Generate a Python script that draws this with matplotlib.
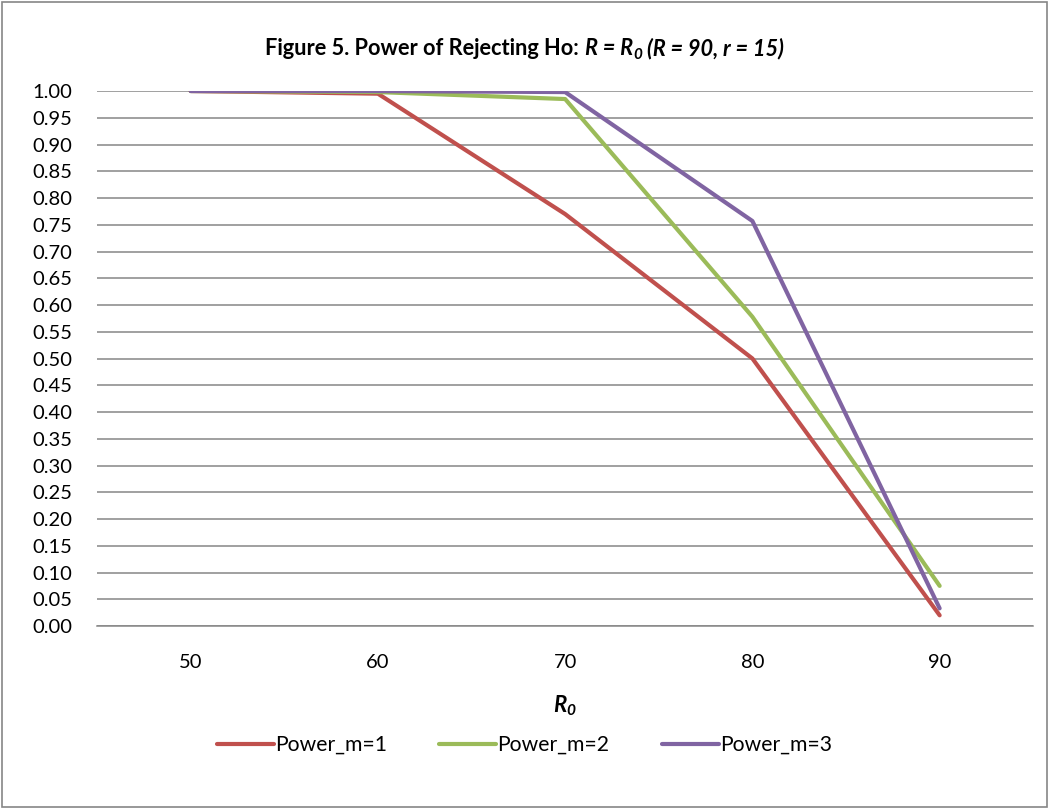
import matplotlib.pyplot as plt
from matplotlib.patches import Rectangle

plt.rcParams['font.family'] = ['Lato', 'DejaVu Sans']
plt.rcParams['mathtext.fontset'] = 'custom'
plt.rcParams['mathtext.it'] = 'Lato:italic:bold'
plt.rcParams['mathtext.rm'] = 'Lato:italic:bold'
plt.rcParams['mathtext.bf'] = 'Lato:bold'

r0_values = ['50', '60', '70', '80', '90']
power_m1 = [1.000, 0.995, 0.770, 0.500, 0.020]
power_m2 = [1.000, 0.998, 0.985, 0.578, 0.075]
power_m3 = [1.000, 1.000, 0.998, 0.757, 0.033]
series_names = ['Power_m=1', 'Power_m=2', 'Power_m=3']
colors = ['#C0504D', '#9BBB59', '#8064A2']

fig = plt.figure(figsize=(10.49, 8.09), dpi=100)
ax = fig.add_axes([0.0925, 0.2262, 0.8925, 0.6613])

x = list(range(len(r0_values)))
for vals, name, c in zip([power_m1, power_m2, power_m3], series_names, colors):
    ax.plot(x, vals, color=c, lw=3.0, label=name, solid_capstyle='round', solid_joinstyle='round')

ax.set_xlim(-0.5, 4.5)
ax.set_ylim(0, 1.0)
ax.set_yticks([i * 0.05 for i in range(21)])
ax.set_yticklabels(['%.2f' % (i * 0.05) for i in range(21)], fontsize=14.5)
ax.set_xticks(x)
ax.set_xticklabels(r0_values, fontsize=14.5)
ax.tick_params(length=0)
ax.tick_params(axis='y', pad=18)
ax.tick_params(axis='x', pad=20)
ax.grid(axis='y', color='#868686', lw=1.1)
ax.set_axisbelow(True)
for s in ['top', 'right', 'left']:
    ax.spines[s].set_visible(False)
ax.spines['bottom'].set_color('#868686')
ax.spines['bottom'].set_linewidth(1.1)

ax.set_xlabel(r'$R_{0}$', fontsize=16, labelpad=16)

# title built from pieces: plain bold, bold italic, subscript
W = fig.get_figwidth() * fig.dpi
H = fig.get_figheight() * fig.dpi
title_y = 809 - 50
pieces = [
    ('Figure 5. Power of Rejecting Ho:', 'normal', 15.7, 0, 6),
    ('R = R', 'italic', 15.7, 0, 0),
    ('0', 'italic', 11, -4, 5),
    ('(R = 90, r = 15)', 'italic', 15.7, 0, 0),
]
renderer = fig.canvas.get_renderer()
texts = []
total = 0
for s, style, size, dy, gap in pieces:
    t = fig.text(0, 0, s, fontsize=size, fontweight='bold', style=style,
                 ha='left', va='baseline')
    w = t.get_window_extent(renderer).width
    texts.append((t, w, dy, gap))
    total += w + gap
xpos = (W - total) / 2
for t, w, dy, gap in texts:
    t.set_position((xpos / W, (title_y - 5 + dy) / H))
    xpos += w + gap

fig.legend(loc='center', bbox_to_anchor=(0.5, 0.079), ncol=3, frameon=False,
           fontsize=15.2, handlelength=2.7, handletextpad=0.05, columnspacing=2.5)

fig.patches.append(Rectangle((0.002, 0.002), 0.996, 0.995, transform=fig.transFigure,
                             fill=False, edgecolor='#868686', lw=1.2))

fig.savefig('out.png', dpi=100)
